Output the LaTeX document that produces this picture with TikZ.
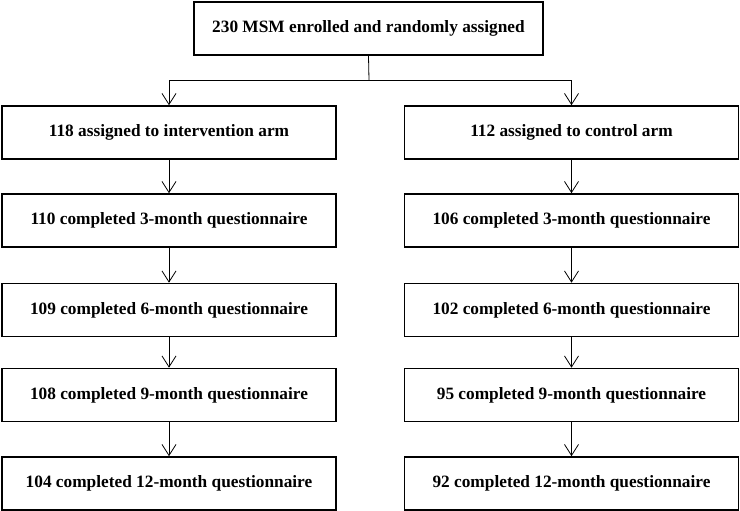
\documentclass[tikz,border=0pt]{standalone}
\usepackage{fontspec}
\setmainfont{Liberation Serif}
\usetikzlibrary{arrows.meta}
\begin{document}
\begin{tikzpicture}[x=1pt,y=-1pt,
  flowbox/.style={draw, line width=1.6pt, minimum height=53pt, inner sep=0pt,
    font=\fontsize{17.3}{20}\selectfont\bfseries},
  colbox/.style={flowbox, minimum width=334pt},
  conn/.style={line width=0.8pt, -{Straight Barb[length=11pt,width=14pt,line width=0.8pt]}}]
\useasboundingbox (0,0) rectangle (740,511);
\node[flowbox, minimum width=349pt] (top) at (368.5,28.5) {230 MSM enrolled and randomly assigned};
\node[colbox] (l1) at (169,132.5) {118 assigned to intervention arm};
\node[colbox] (l2) at (169,220.5) {110 completed 3-month questionnaire};
\node[colbox] (l3) at (169,310) {109 completed 6-month questionnaire};
\node[colbox] (l4) at (169,395) {108 completed 9-month questionnaire};
\node[colbox] (l5) at (169,483.5) {104 completed 12-month questionnaire};
\node[colbox] (r1) at (571.5,132.5) {112 assigned to control arm};
\node[colbox] (r2) at (571.5,220.5) {106 completed 3-month questionnaire};
\node[colbox] (r3) at (571.5,310) {102 completed 6-month questionnaire};
\node[colbox] (r4) at (571.5,395) {95 completed 9-month questionnaire};
\node[colbox] (r5) at (571.5,483.5) {92 completed 12-month questionnaire};
\coordinate (j) at (369,80);
\draw[line width=0.8pt] (top.south) -- (j);
\draw[conn] (j) -| (l1.north);
\draw[conn] (j) -| (r1.north);
\foreach \a/\b in {l1/l2,l2/l3,l3/l4,l4/l5,r1/r2,r2/r3,r3/r4,r4/r5}
  \draw[conn] (\a.south) -- (\b.north);
\end{tikzpicture}
\end{document}
